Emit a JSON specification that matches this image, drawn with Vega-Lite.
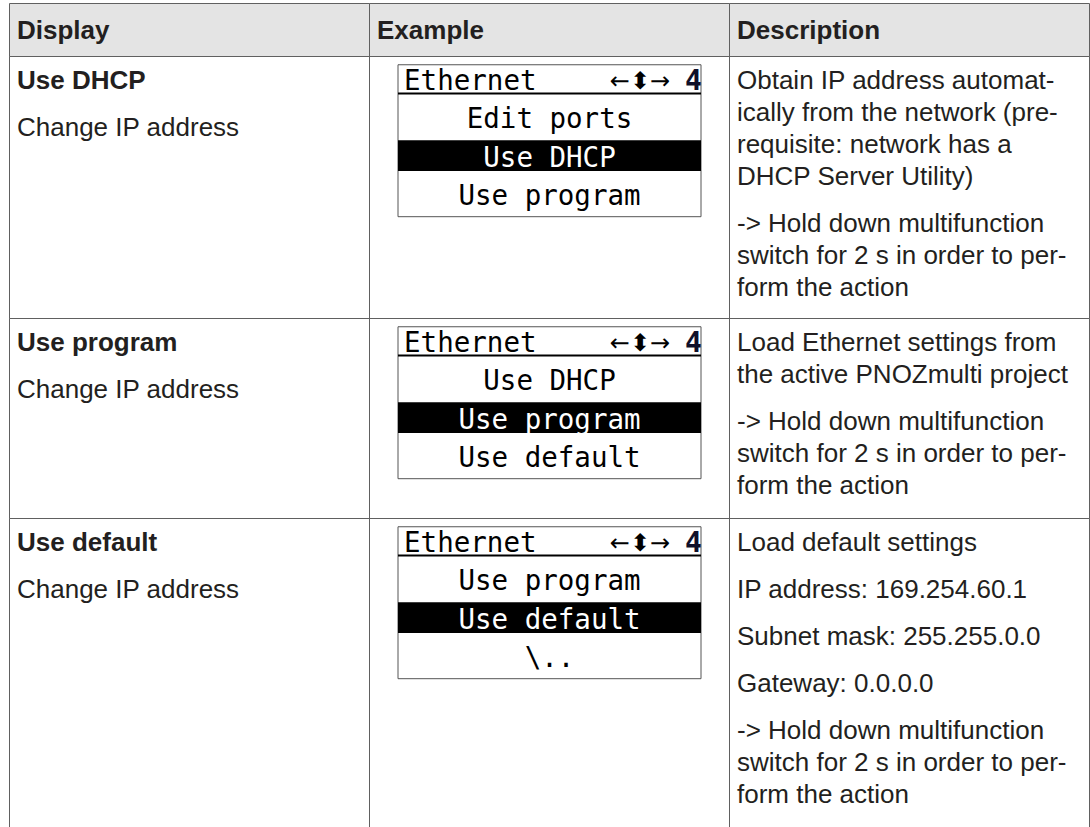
{
  "$schema": "https://vega.github.io/schema/vega-lite/v6.json",
  "padding": {"left": 8, "top": 2, "right": 0, "bottom": 0},
  "background": "white",
  "bounds": "flush",
  "spacing": 0,
  "columns": 3,
  "config": {
    "view": {"stroke": "#606060", "strokeWidth": 1},
    "text": {"font": "Liberation Sans", "fontSize": 26, "fill": "#231f20"},
    "concat": {"spacing": 0}
  },
  "datasets": {
    "table": [
      {"row": 0, "col": "Display", "line": 0, "para": 0, "weight": "bold", "text": "Display"},
      {"row": 0, "col": "Example", "line": 0, "para": 0, "weight": "bold", "text": "Example"},
      {"row": 0, "col": "Description", "line": 0, "para": 0, "weight": "bold", "text": "Description"},
      {"row": 1, "col": "Display", "line": 0, "para": 0, "weight": "bold", "text": "Use DHCP"},
      {"row": 1, "col": "Display", "line": 1, "para": 1, "weight": "normal", "text": "Change IP address"},
      {"row": 1, "col": "Description", "line": 0, "para": 0, "weight": "normal", "text": "Obtain IP address automat-"},
      {"row": 1, "col": "Description", "line": 1, "para": 0, "weight": "normal", "text": "ically from the network (pre-"},
      {"row": 1, "col": "Description", "line": 2, "para": 0, "weight": "normal", "text": "requisite: network has a"},
      {"row": 1, "col": "Description", "line": 3, "para": 0, "weight": "normal", "text": "DHCP Server Utility)"},
      {"row": 1, "col": "Description", "line": 4, "para": 1, "weight": "normal", "text": "-> Hold down multifunction"},
      {"row": 1, "col": "Description", "line": 5, "para": 1, "weight": "normal", "text": "switch for 2 s in order to per-"},
      {"row": 1, "col": "Description", "line": 6, "para": 1, "weight": "normal", "text": "form the action"},
      {"row": 2, "col": "Display", "line": 0, "para": 0, "weight": "bold", "text": "Use program"},
      {"row": 2, "col": "Display", "line": 1, "para": 1, "weight": "normal", "text": "Change IP address"},
      {"row": 2, "col": "Description", "line": 0, "para": 0, "weight": "normal", "text": "Load Ethernet settings from"},
      {"row": 2, "col": "Description", "line": 1, "para": 0, "weight": "normal", "text": "the active PNOZmulti project"},
      {"row": 2, "col": "Description", "line": 2, "para": 1, "weight": "normal", "text": "-> Hold down multifunction"},
      {"row": 2, "col": "Description", "line": 3, "para": 1, "weight": "normal", "text": "switch for 2 s in order to per-"},
      {"row": 2, "col": "Description", "line": 4, "para": 1, "weight": "normal", "text": "form the action"},
      {"row": 3, "col": "Display", "line": 0, "para": 0, "weight": "bold", "text": "Use default"},
      {"row": 3, "col": "Display", "line": 1, "para": 1, "weight": "normal", "text": "Change IP address"},
      {"row": 3, "col": "Description", "line": 0, "para": 0, "weight": "normal", "text": "Load default settings"},
      {"row": 3, "col": "Description", "line": 1, "para": 1, "weight": "normal", "text": "IP address: 169.254.60.1"},
      {"row": 3, "col": "Description", "line": 2, "para": 2, "weight": "normal", "text": "Subnet mask: 255.255.0.0"},
      {"row": 3, "col": "Description", "line": 3, "para": 3, "weight": "normal", "text": "Gateway: 0.0.0.0"},
      {"row": 3, "col": "Description", "line": 4, "para": 4, "weight": "normal", "text": "-> Hold down multifunction"},
      {"row": 3, "col": "Description", "line": 5, "para": 4, "weight": "normal", "text": "switch for 2 s in order to per-"},
      {"row": 3, "col": "Description", "line": 6, "para": 4, "weight": "normal", "text": "form the action"}
    ],
    "lcd": [
      {"row": 1, "slot": 0, "kind": "title", "text": "Ethernet"},
      {"row": 1, "slot": 0, "kind": "icons", "text": "←⬍→"},
      {"row": 1, "slot": 0, "kind": "page", "text": "4"},
      {"row": 1, "slot": 1, "kind": "item", "text": "Edit ports"},
      {"row": 1, "slot": 2, "kind": "selected", "text": "\u00a0Use DHCP"},
      {"row": 1, "slot": 3, "kind": "item", "text": "Use program"},
      {"row": 2, "slot": 0, "kind": "title", "text": "Ethernet"},
      {"row": 2, "slot": 0, "kind": "icons", "text": "←⬍→"},
      {"row": 2, "slot": 0, "kind": "page", "text": "4"},
      {"row": 2, "slot": 1, "kind": "item", "text": "\u00a0Use DHCP"},
      {"row": 2, "slot": 2, "kind": "selected", "text": "Use program"},
      {"row": 2, "slot": 3, "kind": "item", "text": "Use default"},
      {"row": 3, "slot": 0, "kind": "title", "text": "Ethernet"},
      {"row": 3, "slot": 0, "kind": "icons", "text": "←⬍→"},
      {"row": 3, "slot": 0, "kind": "page", "text": "4"},
      {"row": 3, "slot": 1, "kind": "item", "text": "Use program"},
      {"row": 3, "slot": 2, "kind": "selected", "text": "Use default"},
      {"row": 3, "slot": 3, "kind": "item", "text": "\u00a0\\.."}
    ]
  },
  "concat": [
    {
      "width": 360, "height": 53, "view": {"fill": "#e4e4e4"},
      "data": {"name": "table"},
      "transform": [{"filter": "datum.row === 0 && datum.col === 'Display'"}],
      "mark": {"type": "text", "fontWeight": "bold", "align": "left", "baseline": "middle"},
      "encoding": {
        "x": {"datum": 0, "type": "quantitative", "scale": {"domain": [0, 1], "range": [8, 350]}, "axis": null},
        "y": {"field": "line", "type": "quantitative", "scale": {"domain": [0, 1], "range": [28, 60]}, "axis": null},
        "text": {"field": "text", "type": "nominal"}
      }
    },
    {
      "width": 360, "height": 53, "view": {"fill": "#e4e4e4"},
      "data": {"name": "table"},
      "transform": [{"filter": "datum.row === 0 && datum.col === 'Example'"}],
      "mark": {"type": "text", "fontWeight": "bold", "align": "left", "baseline": "middle"},
      "encoding": {
        "x": {"datum": 0, "type": "quantitative", "scale": {"domain": [0, 1], "range": [8, 350]}, "axis": null},
        "y": {"field": "line", "type": "quantitative", "scale": {"domain": [0, 1], "range": [28, 60]}, "axis": null},
        "text": {"field": "text", "type": "nominal"}
      }
    },
    {
      "width": 360, "height": 53, "view": {"fill": "#e4e4e4"},
      "data": {"name": "table"},
      "transform": [{"filter": "datum.row === 0 && datum.col === 'Description'"}],
      "mark": {"type": "text", "fontWeight": "bold", "align": "left", "baseline": "middle"},
      "encoding": {
        "x": {"datum": 0, "type": "quantitative", "scale": {"domain": [0, 1], "range": [8, 350]}, "axis": null},
        "y": {"field": "line", "type": "quantitative", "scale": {"domain": [0, 1], "range": [28, 60]}, "axis": null},
        "text": {"field": "text", "type": "nominal"}
      }
    },
    {
      "width": 360, "height": 262,
      "data": {"name": "table"},
      "transform": [{"filter": "datum.row === 1 && datum.col === 'Display'"}],
      "encoding": {
        "x": {"datum": 0, "type": "quantitative", "scale": {"domain": [0, 1], "range": [8, 350]}, "axis": null},
        "y": {"field": "line", "type": "quantitative", "scale": {"domain": [0, 1], "range": [25, 57]}, "axis": null},
        "text": {"field": "text", "type": "nominal"}
      },
      "layer": [
        {"transform": [{"filter": "datum.weight === 'bold'"}], "mark": {"type": "text", "fontWeight": "bold", "align": "left", "baseline": "middle", "yOffset": {"expr": "datum.para * 15"}}},
        {"transform": [{"filter": "datum.weight === 'normal'"}], "mark": {"type": "text", "align": "left", "baseline": "middle", "yOffset": {"expr": "datum.para * 15"}}}
      ]
    },
    {
      "width": 360, "height": 262,
      "data": {"name": "lcd"},
      "transform": [{"filter": "datum.row === 1"}],
      "layer": [
        {
          "transform": [{"filter": "datum.kind === 'title'"}],
          "mark": {"type": "rect", "fill": "white", "stroke": "#555555", "strokeWidth": 1},
          "encoding": {
            "x": {"datum": 0, "type": "quantitative", "scale": {"domain": [0, 1], "range": [29, 332]}, "axis": null},
            "x2": {"datum": 1},
            "y": {"datum": -0.45, "type": "quantitative", "scale": {"domain": [0, 1], "range": [26, 64.33]}, "axis": null},
            "y2": {"datum": 3.514}
          }
        },
        {
          "transform": [{"filter": "datum.kind === 'title'"}],
          "mark": {"type": "rect", "fill": "black"},
          "encoding": {
            "x": {"datum": 0, "type": "quantitative", "scale": {"domain": [0, 1], "range": [29, 332]}, "axis": null},
            "x2": {"datum": 1},
            "y": {"datum": 1.52, "type": "quantitative", "scale": {"domain": [0, 1], "range": [26, 64.33]}, "axis": null},
            "y2": {"datum": 2.322}
          }
        },
        {
          "transform": [{"filter": "datum.kind === 'title'"}],
          "mark": {"type": "rule", "stroke": "black", "strokeWidth": 2},
          "encoding": {
            "x": {"datum": 0, "type": "quantitative", "scale": {"domain": [0, 1], "range": [29, 332]}, "axis": null},
            "x2": {"datum": 1},
            "y": {"datum": 0.3, "type": "quantitative", "scale": {"domain": [0, 1], "range": [26, 64.33]}, "axis": null}
          }
        },
        {
          "transform": [{"filter": "datum.kind === 'title'"}],
          "mark": {"type": "text", "font": "DejaVu Sans Mono", "fontSize": 27.5, "align": "left", "baseline": "middle", "fill": "black"},
          "encoding": {
            "x": {"datum": 0.02, "type": "quantitative", "scale": {"domain": [0, 1], "range": [29, 332]}, "axis": null},
            "y": {"field": "slot", "type": "quantitative", "scale": {"domain": [0, 1], "range": [26, 64.33]}, "axis": null},
            "text": {"field": "text", "type": "nominal"}
          }
        },
        {
          "transform": [{"filter": "datum.kind === 'icons'"}],
          "mark": {"type": "text", "font": "DejaVu Sans", "fontSize": 24, "align": "right", "baseline": "middle", "fill": "black"},
          "encoding": {
            "x": {"datum": 0.898, "type": "quantitative", "scale": {"domain": [0, 1], "range": [29, 332]}, "axis": null},
            "y": {"field": "slot", "type": "quantitative", "scale": {"domain": [0, 1], "range": [26, 64.33]}, "axis": null},
            "text": {"field": "text", "type": "nominal"}
          }
        },
        {
          "transform": [{"filter": "datum.kind === 'page'"}],
          "mark": {"type": "text", "font": "DejaVu Sans Mono", "fontSize": 28, "fontWeight": "bold", "align": "right", "baseline": "middle", "fill": "#10102a"},
          "encoding": {
            "x": {"datum": 1.003, "type": "quantitative", "scale": {"domain": [0, 1], "range": [29, 332]}, "axis": null},
            "y": {"field": "slot", "type": "quantitative", "scale": {"domain": [0, 1], "range": [26, 64.33]}, "axis": null},
            "text": {"field": "text", "type": "nominal"}
          }
        },
        {
          "transform": [{"filter": "datum.kind === 'item' || datum.kind === 'selected'"}],
          "mark": {"type": "text", "font": "DejaVu Sans Mono", "fontSize": 27.5, "align": "center", "baseline": "middle"},
          "encoding": {
            "x": {"datum": 0.5, "type": "quantitative", "scale": {"domain": [0, 1], "range": [29, 332]}, "axis": null},
            "y": {"field": "slot", "type": "quantitative", "scale": {"domain": [0, 1], "range": [26, 64.33]}, "axis": null},
            "text": {"field": "text", "type": "nominal"},
            "color": {"field": "kind", "type": "nominal", "scale": {"domain": ["item", "selected"], "range": ["#000000", "#ffffff"]}, "legend": null}
          }
        }
      ]
    },
    {
      "width": 360, "height": 262,
      "data": {"name": "table"},
      "transform": [{"filter": "datum.row === 1 && datum.col === 'Description'"}],
      "mark": {"type": "text", "align": "left", "baseline": "middle", "yOffset": {"expr": "datum.para * 15"}},
      "encoding": {
        "x": {"datum": 0, "type": "quantitative", "scale": {"domain": [0, 1], "range": [8, 350]}, "axis": null},
        "y": {"field": "line", "type": "quantitative", "scale": {"domain": [0, 1], "range": [25, 57]}, "axis": null},
        "text": {"field": "text", "type": "nominal"}
      }
    },
    {
      "width": 360, "height": 200,
      "data": {"name": "table"},
      "transform": [{"filter": "datum.row === 2 && datum.col === 'Display'"}],
      "encoding": {
        "x": {"datum": 0, "type": "quantitative", "scale": {"domain": [0, 1], "range": [8, 350]}, "axis": null},
        "y": {"field": "line", "type": "quantitative", "scale": {"domain": [0, 1], "range": [25, 57]}, "axis": null},
        "text": {"field": "text", "type": "nominal"}
      },
      "layer": [
        {"transform": [{"filter": "datum.weight === 'bold'"}], "mark": {"type": "text", "fontWeight": "bold", "align": "left", "baseline": "middle", "yOffset": {"expr": "datum.para * 15"}}},
        {"transform": [{"filter": "datum.weight === 'normal'"}], "mark": {"type": "text", "align": "left", "baseline": "middle", "yOffset": {"expr": "datum.para * 15"}}}
      ]
    },
    {
      "width": 360, "height": 200,
      "data": {"name": "lcd"},
      "transform": [{"filter": "datum.row === 2"}],
      "layer": [
        {
          "transform": [{"filter": "datum.kind === 'title'"}],
          "mark": {"type": "rect", "fill": "white", "stroke": "#555555", "strokeWidth": 1},
          "encoding": {
            "x": {"datum": 0, "type": "quantitative", "scale": {"domain": [0, 1], "range": [29, 332]}, "axis": null},
            "x2": {"datum": 1},
            "y": {"datum": -0.45, "type": "quantitative", "scale": {"domain": [0, 1], "range": [26, 64.33]}, "axis": null},
            "y2": {"datum": 3.514}
          }
        },
        {
          "transform": [{"filter": "datum.kind === 'title'"}],
          "mark": {"type": "rect", "fill": "black"},
          "encoding": {
            "x": {"datum": 0, "type": "quantitative", "scale": {"domain": [0, 1], "range": [29, 332]}, "axis": null},
            "x2": {"datum": 1},
            "y": {"datum": 1.52, "type": "quantitative", "scale": {"domain": [0, 1], "range": [26, 64.33]}, "axis": null},
            "y2": {"datum": 2.322}
          }
        },
        {
          "transform": [{"filter": "datum.kind === 'title'"}],
          "mark": {"type": "rule", "stroke": "black", "strokeWidth": 2},
          "encoding": {
            "x": {"datum": 0, "type": "quantitative", "scale": {"domain": [0, 1], "range": [29, 332]}, "axis": null},
            "x2": {"datum": 1},
            "y": {"datum": 0.3, "type": "quantitative", "scale": {"domain": [0, 1], "range": [26, 64.33]}, "axis": null}
          }
        },
        {
          "transform": [{"filter": "datum.kind === 'title'"}],
          "mark": {"type": "text", "font": "DejaVu Sans Mono", "fontSize": 27.5, "align": "left", "baseline": "middle", "fill": "black"},
          "encoding": {
            "x": {"datum": 0.02, "type": "quantitative", "scale": {"domain": [0, 1], "range": [29, 332]}, "axis": null},
            "y": {"field": "slot", "type": "quantitative", "scale": {"domain": [0, 1], "range": [26, 64.33]}, "axis": null},
            "text": {"field": "text", "type": "nominal"}
          }
        },
        {
          "transform": [{"filter": "datum.kind === 'icons'"}],
          "mark": {"type": "text", "font": "DejaVu Sans", "fontSize": 24, "align": "right", "baseline": "middle", "fill": "black"},
          "encoding": {
            "x": {"datum": 0.898, "type": "quantitative", "scale": {"domain": [0, 1], "range": [29, 332]}, "axis": null},
            "y": {"field": "slot", "type": "quantitative", "scale": {"domain": [0, 1], "range": [26, 64.33]}, "axis": null},
            "text": {"field": "text", "type": "nominal"}
          }
        },
        {
          "transform": [{"filter": "datum.kind === 'page'"}],
          "mark": {"type": "text", "font": "DejaVu Sans Mono", "fontSize": 28, "fontWeight": "bold", "align": "right", "baseline": "middle", "fill": "#10102a"},
          "encoding": {
            "x": {"datum": 1.003, "type": "quantitative", "scale": {"domain": [0, 1], "range": [29, 332]}, "axis": null},
            "y": {"field": "slot", "type": "quantitative", "scale": {"domain": [0, 1], "range": [26, 64.33]}, "axis": null},
            "text": {"field": "text", "type": "nominal"}
          }
        },
        {
          "transform": [{"filter": "datum.kind === 'item' || datum.kind === 'selected'"}],
          "mark": {"type": "text", "font": "DejaVu Sans Mono", "fontSize": 27.5, "align": "center", "baseline": "middle"},
          "encoding": {
            "x": {"datum": 0.5, "type": "quantitative", "scale": {"domain": [0, 1], "range": [29, 332]}, "axis": null},
            "y": {"field": "slot", "type": "quantitative", "scale": {"domain": [0, 1], "range": [26, 64.33]}, "axis": null},
            "text": {"field": "text", "type": "nominal"},
            "color": {"field": "kind", "type": "nominal", "scale": {"domain": ["item", "selected"], "range": ["#000000", "#ffffff"]}, "legend": null}
          }
        }
      ]
    },
    {
      "width": 360, "height": 200,
      "data": {"name": "table"},
      "transform": [{"filter": "datum.row === 2 && datum.col === 'Description'"}],
      "mark": {"type": "text", "align": "left", "baseline": "middle", "yOffset": {"expr": "datum.para * 15"}},
      "encoding": {
        "x": {"datum": 0, "type": "quantitative", "scale": {"domain": [0, 1], "range": [8, 350]}, "axis": null},
        "y": {"field": "line", "type": "quantitative", "scale": {"domain": [0, 1], "range": [25, 57]}, "axis": null},
        "text": {"field": "text", "type": "nominal"}
      }
    },
    {
      "width": 360, "height": 330,
      "data": {"name": "table"},
      "transform": [{"filter": "datum.row === 3 && datum.col === 'Display'"}],
      "encoding": {
        "x": {"datum": 0, "type": "quantitative", "scale": {"domain": [0, 1], "range": [8, 350]}, "axis": null},
        "y": {"field": "line", "type": "quantitative", "scale": {"domain": [0, 1], "range": [25, 57]}, "axis": null},
        "text": {"field": "text", "type": "nominal"}
      },
      "layer": [
        {"transform": [{"filter": "datum.weight === 'bold'"}], "mark": {"type": "text", "fontWeight": "bold", "align": "left", "baseline": "middle", "yOffset": {"expr": "datum.para * 15"}}},
        {"transform": [{"filter": "datum.weight === 'normal'"}], "mark": {"type": "text", "align": "left", "baseline": "middle", "yOffset": {"expr": "datum.para * 15"}}}
      ]
    },
    {
      "width": 360, "height": 330,
      "data": {"name": "lcd"},
      "transform": [{"filter": "datum.row === 3"}],
      "layer": [
        {
          "transform": [{"filter": "datum.kind === 'title'"}],
          "mark": {"type": "rect", "fill": "white", "stroke": "#555555", "strokeWidth": 1},
          "encoding": {
            "x": {"datum": 0, "type": "quantitative", "scale": {"domain": [0, 1], "range": [29, 332]}, "axis": null},
            "x2": {"datum": 1},
            "y": {"datum": -0.45, "type": "quantitative", "scale": {"domain": [0, 1], "range": [26, 64.33]}, "axis": null},
            "y2": {"datum": 3.514}
          }
        },
        {
          "transform": [{"filter": "datum.kind === 'title'"}],
          "mark": {"type": "rect", "fill": "black"},
          "encoding": {
            "x": {"datum": 0, "type": "quantitative", "scale": {"domain": [0, 1], "range": [29, 332]}, "axis": null},
            "x2": {"datum": 1},
            "y": {"datum": 1.52, "type": "quantitative", "scale": {"domain": [0, 1], "range": [26, 64.33]}, "axis": null},
            "y2": {"datum": 2.322}
          }
        },
        {
          "transform": [{"filter": "datum.kind === 'title'"}],
          "mark": {"type": "rule", "stroke": "black", "strokeWidth": 2},
          "encoding": {
            "x": {"datum": 0, "type": "quantitative", "scale": {"domain": [0, 1], "range": [29, 332]}, "axis": null},
            "x2": {"datum": 1},
            "y": {"datum": 0.3, "type": "quantitative", "scale": {"domain": [0, 1], "range": [26, 64.33]}, "axis": null}
          }
        },
        {
          "transform": [{"filter": "datum.kind === 'title'"}],
          "mark": {"type": "text", "font": "DejaVu Sans Mono", "fontSize": 27.5, "align": "left", "baseline": "middle", "fill": "black"},
          "encoding": {
            "x": {"datum": 0.02, "type": "quantitative", "scale": {"domain": [0, 1], "range": [29, 332]}, "axis": null},
            "y": {"field": "slot", "type": "quantitative", "scale": {"domain": [0, 1], "range": [26, 64.33]}, "axis": null},
            "text": {"field": "text", "type": "nominal"}
          }
        },
        {
          "transform": [{"filter": "datum.kind === 'icons'"}],
          "mark": {"type": "text", "font": "DejaVu Sans", "fontSize": 24, "align": "right", "baseline": "middle", "fill": "black"},
          "encoding": {
            "x": {"datum": 0.898, "type": "quantitative", "scale": {"domain": [0, 1], "range": [29, 332]}, "axis": null},
            "y": {"field": "slot", "type": "quantitative", "scale": {"domain": [0, 1], "range": [26, 64.33]}, "axis": null},
            "text": {"field": "text", "type": "nominal"}
          }
        },
        {
          "transform": [{"filter": "datum.kind === 'page'"}],
          "mark": {"type": "text", "font": "DejaVu Sans Mono", "fontSize": 28, "fontWeight": "bold", "align": "right", "baseline": "middle", "fill": "#10102a"},
          "encoding": {
            "x": {"datum": 1.003, "type": "quantitative", "scale": {"domain": [0, 1], "range": [29, 332]}, "axis": null},
            "y": {"field": "slot", "type": "quantitative", "scale": {"domain": [0, 1], "range": [26, 64.33]}, "axis": null},
            "text": {"field": "text", "type": "nominal"}
          }
        },
        {
          "transform": [{"filter": "datum.kind === 'item' || datum.kind === 'selected'"}],
          "mark": {"type": "text", "font": "DejaVu Sans Mono", "fontSize": 27.5, "align": "center", "baseline": "middle"},
          "encoding": {
            "x": {"datum": 0.5, "type": "quantitative", "scale": {"domain": [0, 1], "range": [29, 332]}, "axis": null},
            "y": {"field": "slot", "type": "quantitative", "scale": {"domain": [0, 1], "range": [26, 64.33]}, "axis": null},
            "text": {"field": "text", "type": "nominal"},
            "color": {"field": "kind", "type": "nominal", "scale": {"domain": ["item", "selected"], "range": ["#000000", "#ffffff"]}, "legend": null}
          }
        }
      ]
    },
    {
      "width": 360, "height": 330,
      "data": {"name": "table"},
      "transform": [{"filter": "datum.row === 3 && datum.col === 'Description'"}],
      "mark": {"type": "text", "align": "left", "baseline": "middle", "yOffset": {"expr": "datum.para * 15"}},
      "encoding": {
        "x": {"datum": 0, "type": "quantitative", "scale": {"domain": [0, 1], "range": [8, 350]}, "axis": null},
        "y": {"field": "line", "type": "quantitative", "scale": {"domain": [0, 1], "range": [25, 57]}, "axis": null},
        "text": {"field": "text", "type": "nominal"}
      }
    }
  ]
}
